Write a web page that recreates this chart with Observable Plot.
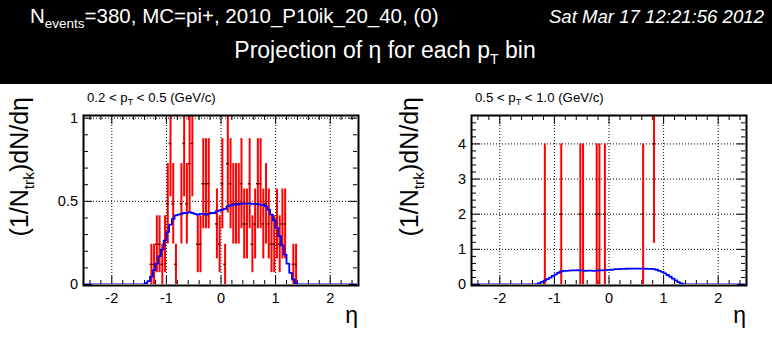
<!DOCTYPE html>
<html><head><meta charset="utf-8">
<script src="https://cdn.jsdelivr.net/npm/d3@7"></script>
<script src="https://cdn.jsdelivr.net/npm/@observablehq/plot@0.6"></script>
<style>
body{margin:0;background:#fff;}
#root{position:relative;width:772px;height:339px;overflow:hidden;font-family:"Liberation Sans",Arial,Helvetica,sans-serif;}
#band{position:absolute;left:0;top:0;width:772px;height:84px;background:#000;}
.panel{position:absolute;top:84px;}
</style></head><body><div id="root"><div id="band"></div></div>
<script>
// ---- data: left panel (0.2 < pT < 0.5) ----
const etaL = [-1.275,-1.225,-1.175,-1.125,-1.075,-1.025,-0.975,-0.925,-0.875,-0.825,-0.725,-0.675,-0.625,-0.575,-0.525,-0.425,-0.375,-0.325,-0.275,-0.225,-0.075,-0.025,0.025,0.075,0.125,0.175,0.225,0.275,0.325,0.375,0.425,0.475,0.525,0.575,0.625,0.675,0.725,0.775,0.825,0.875,0.925,0.975,1.025,1.075,1.125,1.175,1.325,1.375];
const yL = [0.121,0.121,0.242,0.242,0.121,0.242,0.485,0.848,0.485,0.121,0.485,0.848,0.485,0.727,0.848,0.242,0.242,0.606,0.606,0.606,0.364,0.242,0.606,0.121,0.727,0.606,0.485,0.485,0.485,0.606,0.364,0.364,0.606,0.242,0.364,0.606,0.606,0.364,0.485,0.364,0.242,0.242,0.364,0.242,0.364,0.364,0.121,0.121];
const errL = [0.121,0.121,0.171,0.171,0.121,0.171,0.242,0.321,0.242,0.121,0.242,0.321,0.242,0.297,0.321,0.171,0.171,0.271,0.271,0.271,0.210,0.171,0.271,0.121,0.297,0.271,0.242,0.242,0.242,0.271,0.210,0.210,0.271,0.171,0.210,0.271,0.271,0.210,0.242,0.210,0.171,0.171,0.210,0.171,0.210,0.210,0.121,0.121];
// MC histogram, 0.05-wide bins from -1.5 to 1.5 (zero outside)
const mcEdgeStart = -1.5, mcBinWidth = 0.05;
const mcL = [0,0,0.008,0.02,0.047,0.087,0.125,0.17,0.21,0.265,
  0.315,0.36,0.395,0.415,0.42,0.425,0.43,0.43,0.435,0.43,
  0.425,0.42,0.425,0.425,0.42,0.425,0.43,0.43,0.44,0.445,
  0.45,0.455,0.47,0.475,0.48,0.48,0.482,0.486,0.487,0.486,
  0.487,0.485,0.485,0.483,0.48,0.478,0.47,0.45,0.42,0.385,
  0.34,0.29,0.235,0.18,0.125,0.07,0.03,0.008,0,0];
// ---- data: right panel (0.5 < pT < 1.0) ----
const etaR = [-1.175,-0.875,-0.525,-0.475,-0.225,-0.175,-0.075,0.625,0.825];
const yR = [2,2,2,2,2,2,2,2,4];
const errR = [2,2,2,2,2,2,2,2,2.83];
const mcR = [0,0,0.005,0.012,0.035,0.075,0.11,0.155,0.195,0.245,
  0.29,0.335,0.37,0.385,0.39,0.395,0.4,0.4,0.405,0.4,
  0.395,0.39,0.395,0.395,0.39,0.395,0.4,0.4,0.41,0.415,
  0.42,0.425,0.435,0.44,0.445,0.445,0.448,0.452,0.453,0.452,
  0.453,0.451,0.451,0.448,0.446,0.444,0.437,0.42,0.39,0.36,
  0.315,0.27,0.22,0.17,0.115,0.065,0.028,0.007,0,0];
// ---- ticks ----
const xDomain = [-2.5, 2.5];
const xMajor = [-2,-1,0,1,2];
const xMinor = [-2.4,-2.2,-1.8,-1.6,-1.4,-1.2,-0.8,-0.6,-0.4,-0.2,0.2,0.4,0.6,0.8,1.2,1.4,1.6,1.8,2.2,2.4];
const yMajorL = [0,0.5,1], yMinorL = [0.1,0.2,0.3,0.4,0.6,0.7,0.8,0.9], yGridL = [0.5,1];
const yMajorR = [0,1,2,3,4], yMinorR = [0.2,0.4,0.6,0.8,1.2,1.4,1.6,1.8,2.2,2.4,2.6,2.8,3.2,3.4,3.6,3.8,4.2,4.4,4.6], yGridR = [1,2,3,4];

const FONT = "Liberation Sans, Arial, Helvetica, sans-serif";

function panel({left, ml, mr, yDomain, yMajor, yMinor, yGrid, eta, y, err, mc}) {
  const W = 386, H = 255, mt = 32, mb = 55;
  const iw = W - ml - mr, ih = H - mt - mb;
  const pts = eta.map((e, i) => ({eta: e, v: y[i], e: err[i]}));
  const steps = [{x: xDomain[0], v: 0}];
  mc.forEach((v, i) => steps.push({x: mcEdgeStart + i * mcBinWidth, v}));
  steps.push({x: mcEdgeStart + mc.length * mcBinWidth, v: 0});
  steps.push({x: xDomain[1], v: 0});
  const grid = {stroke: "#000", strokeWidth: 1, strokeDasharray: "1,2"};
  const chart = Plot.plot({
    width: W, height: H, marginLeft: ml, marginRight: mr, marginTop: mt, marginBottom: mb,
    style: {fontFamily: FONT, fontSize: "14.5px", color: "#000", background: "transparent", overflow: "visible"},
    x: {domain: xDomain, ticks: xMajor, tickSize: 0, tickPadding: 8, tickFormat: d => String(d), label: null},
    y: {domain: yDomain, ticks: yMajor, tickSize: 0, tickPadding: 6.5, tickFormat: d => String(d), label: null},
    marks: [
      Plot.ruleX(xMajor, {x: d => d, ...grid}),
      Plot.ruleY(yGrid, {y: d => d, ...grid}),
      Plot.ruleX(xMajor, {x: d => d, stroke: "#000", insetTop: ih - 8}),
      Plot.ruleX(xMinor, {x: d => d, stroke: "#000", insetTop: ih - 4}),
      Plot.ruleX(xMajor, {x: d => d, stroke: "#000", insetBottom: ih - 8}),
      Plot.ruleX(xMinor, {x: d => d, stroke: "#000", insetBottom: ih - 4}),
      Plot.ruleY(yMajor, {y: d => d, stroke: "#000", insetRight: iw - 8}),
      Plot.ruleY(yMinor, {y: d => d, stroke: "#000", insetRight: iw - 4}),
      Plot.ruleY(yMajor, {y: d => d, stroke: "#000", insetLeft: iw - 8}),
      Plot.ruleY(yMinor, {y: d => d, stroke: "#000", insetLeft: iw - 4}),
      Plot.ruleX(pts, {x: "eta", y1: d => d.v - d.e, y2: d => d.v + d.e, stroke: "#ff0000", strokeWidth: 2, clip: true}),
      Plot.ruleY(pts, {y: "v", x1: d => d.eta - 0.025, x2: d => d.eta + 0.025, stroke: "#700000", strokeWidth: 1.5, clip: true}),
      Plot.frame({stroke: "#000", strokeWidth: 2, inset: -1}),
      Plot.line(steps, {x: "x", y: "v", curve: "step-after", stroke: "#0000ff", strokeWidth: 1.8, clip: true})
    ]
  });
  chart.classList.add("panel");
  chart.style.left = left + "px";
  document.getElementById("root").appendChild(chart);
}

panel({left: 0, ml: 84, mr: 29, yDomain: [0, 1.01], yMajor: yMajorL, yMinor: yMinorL, yGrid: yGridL, eta: etaL, y: yL, err: errL, mc: mcL});
panel({left: 386, ml: 86, mr: 27, yDomain: [0, 4.78], yMajor: yMajorR, yMinor: yMinorR, yGrid: yGridR, eta: etaR, y: yR, err: errR, mc: mcR});

// ---- texts ----
const svg = d3.select("#root").append("svg")
  .attr("width", 772).attr("height", 339)
  .style("position", "absolute").style("left", 0).style("top", 0)
  .style("font-family", FONT);

function rich(sel, parts, subSize, subShift) {
  let shifted = false;
  parts.forEach(p => {
    const t = sel.append("tspan").text(p.t);
    if (p.sub && !shifted) { t.attr("dy", subShift).attr("font-size", subSize); shifted = true; }
    else if (!p.sub && shifted) { t.attr("dy", -subShift); shifted = false; }
  });
}

const h1 = svg.append("text").attr("x", 30).attr("y", 23).attr("fill", "#fff").attr("font-size", 20.5);
rich(h1, [{t: "N"}, {t: "events", sub: true}, {t: "=380, MC=pi+, 2010_P10ik_20_40, (0)"}], 13.5, 4.5);
svg.append("text").attr("x", 764).attr("y", 23).attr("fill", "#fff").attr("font-size", 18.6)
  .attr("font-style", "italic").attr("text-anchor", "end").text("Sat Mar 17 12:21:56 2012");
const h2 = svg.append("text").attr("x", 385).attr("y", 58).attr("fill", "#fff").attr("font-size", 23).attr("text-anchor", "middle");
rich(h2, [{t: "Projection of η for each p"}, {t: "T", sub: true}, {t: " bin"}], 14, 6);

const panelTitles = [
  {x: 87, lo: "0.2", hi: "0.5"},
  {x: 475, lo: "0.5", hi: "1.0"}
];
panelTitles.forEach(p => {
  const t = svg.append("text").attr("x", p.x).attr("y", 101.5).attr("fill", "#000").attr("font-size", 13.2);
  rich(t, [{t: `${p.lo} < p`}, {t: "T", sub: true}, {t: ` < ${p.hi} (GeV/c)`}], 9, 3.5);
});

[{x: 28}, {x: 418}].forEach(p => {
  const t = svg.append("text").attr("transform", `translate(${p.x},97) rotate(-90)`)
    .attr("text-anchor", "end").attr("fill", "#000").attr("font-size", 25);
  rich(t, [{t: "(1/N"}, {t: "trk", sub: true}, {t: ")dN/dη"}], 15.5, 6);
});

[{x: 358}, {x: 746}].forEach(p => {
  svg.append("text").attr("x", p.x).attr("y", 323).attr("text-anchor", "end")
    .attr("fill", "#000").attr("font-size", 23).text("η");
});
</script>
</body></html>
